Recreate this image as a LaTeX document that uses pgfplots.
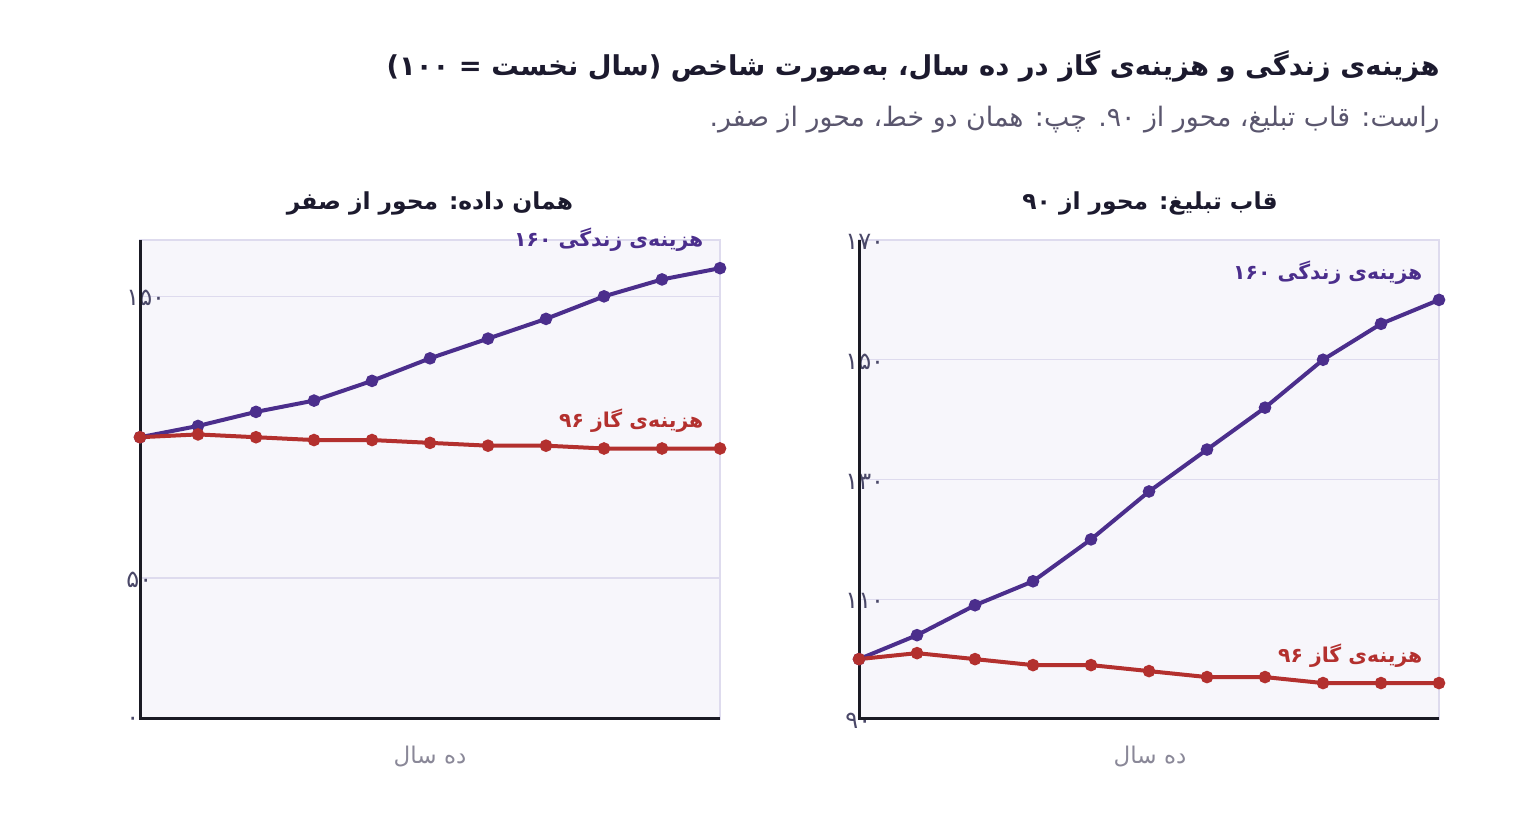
\documentclass[border=0pt]{standalone}
\usepackage{pgfplots}
\pgfplotsset{compat=1.18}
\usepackage{pgfplotstable}
\usepackage{fontspec}
\setmainfont[Script=Arabic]{DejaVu Sans}
\newfontfamily\fa[Script=Arabic]{DejaVu Sans}
\TeXXeTstate=1

\definecolor{ink}{HTML}{1C1A2E}
\definecolor{sub}{HTML}{5A566E}
\definecolor{tick}{HTML}{4A4868}
\definecolor{xlab}{HTML}{8A8898}
\definecolor{bgc}{HTML}{F7F6FB}
\definecolor{gridc}{HTML}{DEDBEE}
\definecolor{axdark}{HTML}{1A1A24}
\definecolor{life}{HTML}{4B2E8C}
\definecolor{gas}{HTML}{B3302E}

% index, first year = 100
\pgfplotstableread{
x life gas
0 100 100
1 104 101
2 109 100
3 113 99
4 120 99
5 128 98
6 135 97
7 142 97
8 150 96
9 156 96
10 160 96
}\idx

\pgfplotsset{panel/.style={
  width=290pt, height=239.5pt, scale only axis,
  anchor=south west,
  xmin=0, xmax=10, xtick=\empty,
  axis background/.style={fill=bgc},
  axis line style={draw=gridc, line width=0.6pt},
  ymajorgrids, grid style={draw=gridc, line width=0.7pt},
  major tick length=0pt,
  yticklabel style={font=\fa\fontsize{12}{14}\selectfont, text=tick, anchor=west, inner sep=0pt, xshift=-7pt, yshift=-1pt},
  clip=false,
}}
\tikzset{lbl/.style={anchor=east, inner sep=0pt, font=\fa\bfseries\fontsize{10.2}{12}\selectfont}}

\begin{document}
\begin{tikzpicture}
\path[use as bounding box] (0pt,0pt) rectangle (760pt,420pt);

% left: same data, axis from zero
\begin{axis}[panel, at={(70pt,60.5pt)}, ymin=0, ymax=170,
  ytick={0,50,150}, yticklabels={۰,۵۰,۱۵۰}]
\draw[axdark, line width=1.5pt] (rel axis cs:0,1) -- (rel axis cs:0,0) -- (rel axis cs:1,0);
\addplot[life, line width=2pt, mark=*, mark size=2.1pt] table[x=x,y=life]{\idx};
\addplot[gas, line width=2pt, mark=*, mark size=2.1pt] table[x=x,y=gas]{\idx};
\node[lbl, text=life] at (axis cs:9.72,170) {\beginR هزینه‌ی زندگی ۱۶۰\endR};
\node[lbl, text=gas] at (axis cs:9.72,106) {\beginR هزینه‌ی گاز ۹۶\endR};
\end{axis}

% right: advertising frame, axis from 90
\begin{axis}[panel, at={(429.5pt,60.5pt)}, ymin=90, ymax=170,
  ytick={90,110,130,150,170}, yticklabels={۹۰,۱۱۰,۱۳۰,۱۵۰,۱۷۰}]
\draw[axdark, line width=1.5pt] (rel axis cs:0,1) -- (rel axis cs:0,0) -- (rel axis cs:1,0);
\addplot[life, line width=2pt, mark=*, mark size=2.1pt] table[x=x,y=life]{\idx};
\addplot[gas, line width=2pt, mark=*, mark size=2.1pt] table[x=x,y=gas]{\idx};
\node[lbl, text=life] at (axis cs:9.72,164.6) {\beginR هزینه‌ی زندگی ۱۶۰\endR};
\node[lbl, text=gas] at (axis cs:9.72,100.5) {\beginR هزینه‌ی گاز ۹۶\endR};
\end{axis}

% titles and labels
\node[anchor=east, inner sep=0pt, text=ink, font=\fa\bfseries\fontsize{13.7}{16}\selectfont] at (720pt,387pt)
  {\beginR هزینه‌ی زندگی و هزینه‌ی گاز در ده سال، به‌صورت شاخص (سال نخست = ۱۰۰)\endR};
\node[anchor=east, inner sep=0pt, text=sub, font=\fa\fontsize{13.4}{15}\selectfont] at (720pt,360pt)
  {\beginR راست: قاب تبلیغ، محور از ۹۰. چپ: همان دو خط، محور از صفر.\endR};
\node[text=ink, font=\fa\bfseries\fontsize{11.7}{14}\selectfont] at (215pt,318.5pt) {\beginR همان داده: محور از صفر\endR};
\node[text=ink, font=\fa\bfseries\fontsize{11.7}{14}\selectfont] at (575pt,318.5pt) {\beginR قاب تبلیغ: محور از ۹۰\endR};
\node[text=xlab, font=\fa\fontsize{11.5}{13}\selectfont] at (215pt,41.5pt) {\beginR ده سال\endR};
\node[text=xlab, font=\fa\fontsize{11.5}{13}\selectfont] at (575pt,41.5pt) {\beginR ده سال\endR};
\end{tikzpicture}
\end{document}
